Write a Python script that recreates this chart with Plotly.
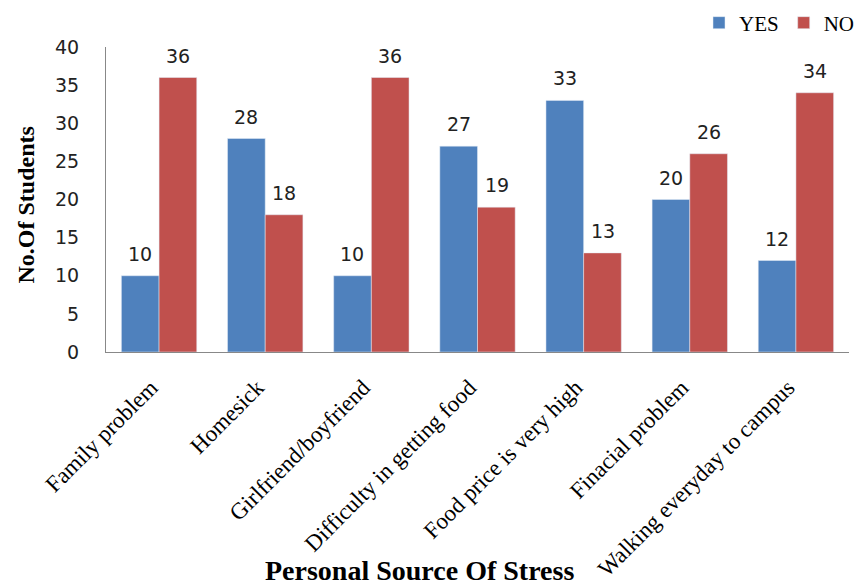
import plotly.graph_objects as go

categories = ["Family problem", "Homesick", "Girlfriend/boyfriend", "Difficulty in getting food",
              "Food price is very high", "Finacial problem", "Walking everyday to campus"]
yes_vals = [10, 28, 10, 27, 33, 20, 12]
no_vals = [36, 18, 36, 19, 13, 26, 34]
y_ticks = [0, 5, 10, 15, 20, 25, 30, 35, 40]

W, H = 859, 588
L, R, T, B = 106, 10, 47, 236
pw = W - L - R
ph = H - T - B

num_font = dict(family="DejaVu Sans", size=19, color="#222222")
serif = "Liberation Serif"
BLUE, RED = "#4F81BD", "#C0504D"
half_bar = 19  # px offset of each bar's centre from the category centre

fig = go.Figure()
fig.add_trace(go.Bar(name="YES", x=categories, y=yes_vals, marker_color=BLUE))
fig.add_trace(go.Bar(name="NO", x=categories, y=no_vals, marker_color=RED))

annotations = []
for vals, shift in ((yes_vals, -half_bar), (no_vals, half_bar)):
    for c, v in zip(categories, vals):
        annotations.append(dict(x=c, y=v, xref="x", yref="y", text=str(v), showarrow=False,
                                xshift=shift, yshift=9, yanchor="bottom", xanchor="center",
                                font=num_font))

annotations += [
    dict(text="<b>No.Of Students</b>", xref="paper", yref="paper",
         x=-(L - 25) / pw, y=0.5 - 6 / ph, textangle=-90, showarrow=False,
         font=dict(family=serif, size=24, color="black"), xanchor="center", yanchor="middle"),
    dict(text="<b>Personal Source Of Stress</b>", xref="paper", yref="paper",
         x=(419 - L) / pw, y=-(H - 1 - T - ph) / ph, showarrow=False,
         font=dict(family=serif, size=28, color="black"), xanchor="center", yanchor="bottom",
         borderpad=0),
]

fig.update_layout(
    width=W, height=H,
    margin=dict(l=L, r=R, t=T, b=B, autoexpand=False),
    plot_bgcolor="white", paper_bgcolor="white",
    barmode="group", bargap=0.29, bargroupgap=0,
    showlegend=True,
    legend=dict(orientation="h", x=(699 - L) / pw, xanchor="left", y=1.0 + 24 / ph, yanchor="middle",
                font=dict(family=serif, size=21, color="black"), itemwidth=30,
                traceorder="normal", bgcolor="rgba(0,0,0,0)"),
    xaxis=dict(showline=True, linecolor="#888888", linewidth=1, ticks="",
               tickangle=-45, tickfont=dict(family=serif, size=23, color="black"),
               ticklabelstandoff=12, ticklabelshift=-8),
    yaxis=dict(range=[0, 40], tickvals=y_ticks, showline=True, linecolor="#888888", linewidth=1,
               showgrid=False, zeroline=False, ticks="", ticklabelstandoff=22,
               tickfont=num_font),
    annotations=annotations,
)

fig.write_html("out.html")
